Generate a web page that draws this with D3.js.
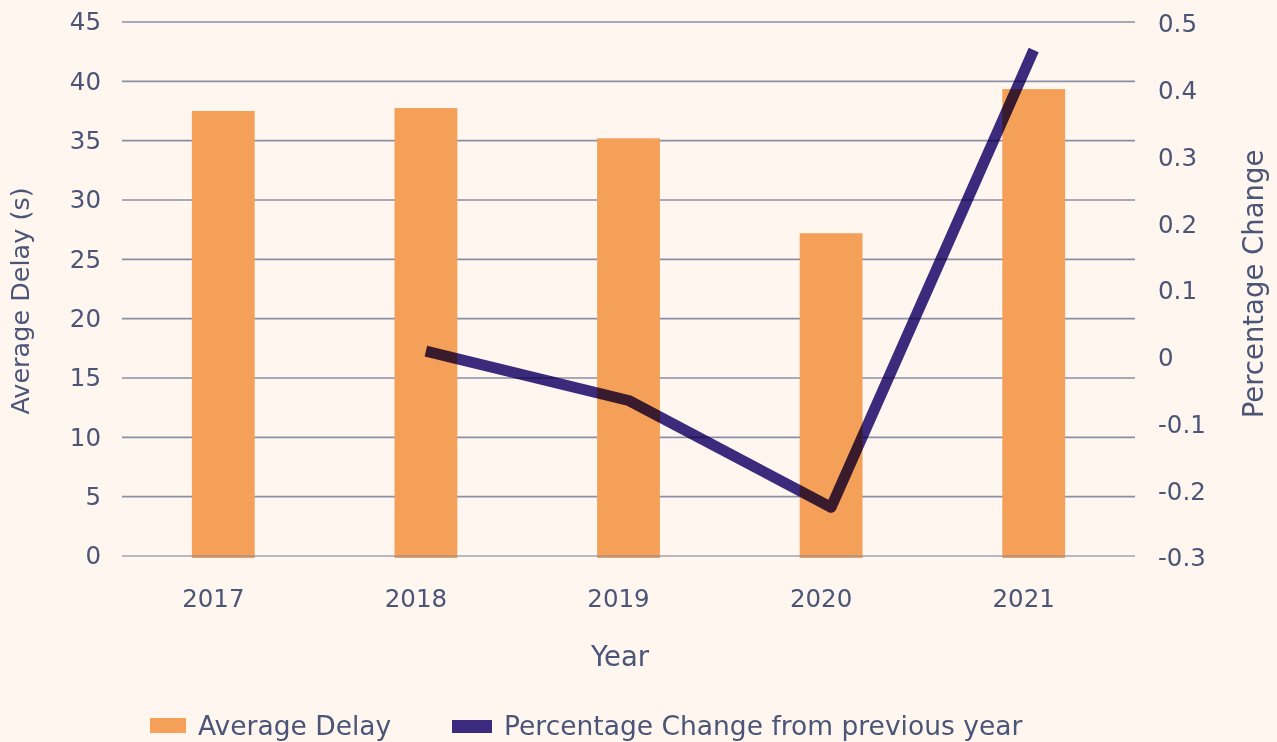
<!DOCTYPE html>
<html lang="en">
<head>
    <meta charset="UTF-8">
    <title>Average Delay</title>
    <script src="https://d3js.org/d3.v7.min.js"></script>
    <style>
        body {
            margin: 0;
            background: #fff6ef;
            overflow: hidden;
        }
        text {
            font-family: "DejaVu Sans", sans-serif;
            fill: #4a5577;
        }
        .grid line {
            stroke: #8a8ea6;
            stroke-width: 1.6;
        }
        .pct-line {
            fill: none;
            stroke: #3c2b85;
            stroke-width: 11;
            stroke-linejoin: round;
            stroke-linecap: butt;
            mix-blend-mode: multiply;
        }
    </style>
</head>
<body>
    <script>
        // data
        const years = ["2017", "2018", "2019", "2020", "2021"];
        const avgDelay = [37.5, 37.75, 35.2, 27.2, 39.35];
        const pctChange = [null, 0.007, -0.067, -0.227, 0.458];
        const leftTicks = [0, 5, 10, 15, 20, 25, 30, 35, 40, 45];
        const rightTicks = [-0.3, -0.2, -0.1, 0, 0.1, 0.2, 0.3, 0.4, 0.5];

        const width = 1277;
        const height = 742;
        const margin = {top: 22, right: 142, bottom: 186, left: 122};
        const tickSize = 24.5;
        const titleSize = 26.5;

        const svg = d3.select("body").append("svg")
            .attr("width", width)
            .attr("height", height);

        const x = d3.scaleBand()
            .domain(years)
            .range([margin.left, width - margin.right])
            .paddingInner(0.69)
            .paddingOuter(0.345);

        const yLeft = d3.scaleLinear()
            .domain([0, 45])
            .range([height - margin.bottom, margin.top]);

        const yRight = d3.scaleLinear()
            .domain([-0.3, 0.5])
            .range([height - margin.bottom, margin.top]);

        // gridlines (follow the left axis)
        svg.append("g")
            .attr("class", "grid")
            .selectAll("line")
            .data(leftTicks.filter(d => d !== 0))
            .enter().append("line")
            .attr("x1", margin.left)
            .attr("x2", width - margin.right)
            .attr("y1", d => yLeft(d))
            .attr("y2", d => yLeft(d));

        // bars
        svg.append("g")
            .selectAll("rect")
            .data(years)
            .enter().append("rect")
            .attr("x", d => x(d))
            .attr("y", (d, i) => yLeft(avgDelay[i]))
            .attr("width", x.bandwidth())
            .attr("height", (d, i) => yLeft(0) - yLeft(avgDelay[i]) + 2)
            .attr("fill", "#f4a058");

        // zero line drawn over the bars
        svg.append("g")
            .attr("class", "grid")
            .append("line")
            .attr("x1", margin.left)
            .attr("x2", width - margin.right)
            .attr("y1", yLeft(0))
            .attr("y2", yLeft(0))
            .attr("stroke-opacity", 0.8);

        // percentage change line
        const lineData = years.map((y, i) => ({year: y, v: pctChange[i]})).filter(d => d.v !== null);
        const line = d3.line()
            .x(d => x(d.year) + x.bandwidth() / 2)
            .y(d => yRight(d.v));

        svg.append("path")
            .datum(lineData)
            .attr("class", "pct-line")
            .attr("d", line);

        // left axis labels
        const leftAxis = d3.axisLeft(yLeft)
            .tickValues(leftTicks)
            .tickSize(0)
            .tickPadding(0)
            .tickFormat(d3.format("d"));
        const gl = svg.append("g")
            .attr("transform", `translate(${margin.left - 21},0)`)
            .call(leftAxis);
        gl.select(".domain").remove();
        gl.selectAll("text").attr("font-size", tickSize).attr("fill", "#4a5577")
            .attr("font-family", "DejaVu Sans");

        // right axis labels
        const rightAxis = d3.axisRight(yRight)
            .tickValues(rightTicks)
            .tickSize(0)
            .tickPadding(0)
            .tickFormat(d => d === 0 ? "0" : d.toFixed(1));
        const gr = svg.append("g")
            .attr("transform", `translate(${width - margin.right + 23},2)`)
            .call(rightAxis);
        gr.select(".domain").remove();
        gr.selectAll("text").attr("font-size", tickSize).attr("fill", "#4a5577")
            .attr("font-family", "DejaVu Sans");

        // x axis labels
        const xAxis = d3.axisBottom(x).tickSize(0).tickPadding(0);
        const gx = svg.append("g")
            .attr("transform", `translate(-10,${height - margin.bottom + 34})`)
            .call(xAxis);
        gx.select(".domain").remove();
        gx.selectAll("text").attr("font-size", tickSize).attr("fill", "#4a5577")
            .attr("font-family", "DejaVu Sans");

        // axis titles
        svg.append("text")
            .attr("transform", "translate(29,301) rotate(-90)")
            .attr("text-anchor", "middle")
            .attr("font-size", 25.5)
            .text("Average Delay (s)");

        svg.append("text")
            .attr("transform", "translate(1263,284) rotate(-90)")
            .attr("text-anchor", "middle")
            .attr("font-size", titleSize + 1)
            .text("Percentage Change");

        svg.append("text")
            .attr("x", 620)
            .attr("y", 666)
            .attr("text-anchor", "middle")
            .attr("font-size", titleSize + 1)
            .text("Year");

        // legend
        const legend = svg.append("g").attr("transform", "translate(0,726)");
        legend.append("rect")
            .attr("x", 150).attr("y", -8).attr("width", 36).attr("height", 15)
            .attr("fill", "#f4a058");
        legend.append("text")
            .attr("x", 198).attr("y", 9)
            .attr("font-size", titleSize)
            .text("Average Delay");
        legend.append("rect")
            .attr("x", 452).attr("y", -6).attr("width", 40).attr("height", 13)
            .attr("fill", "#3b2a7e");
        legend.append("text")
            .attr("x", 504).attr("y", 9)
            .attr("font-size", titleSize)
            .text("Percentage Change from previous year");
    </script>
</body>
</html>
